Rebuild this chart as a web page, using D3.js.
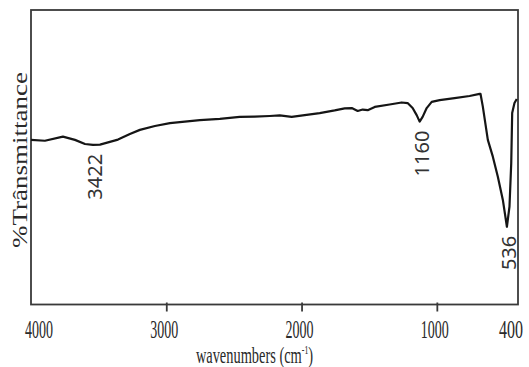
<!DOCTYPE html>
<html>
<head>
<meta charset="utf-8">
<script src="https://cdn.jsdelivr.net/npm/d3@7"></script>
<style>
  html, body { margin: 0; padding: 0; background: #fff; }
  svg { display: block; }
</style>
</head>
<body>
<div id="chart"></div>
<script>
// spectrum (wavenumber, %T on an arbitrary 0-100 scale)
const wavenumbers = [4000, 3897, 3764, 3675, 3601, 3542, 3490, 3417, 3357, 3269, 3195, 3084, 2973, 2863,
    2752, 2604, 2457, 2346, 2235, 2161, 2073, 1977, 1866, 1755, 1681, 1629, 1585, 1548, 1511, 1459,
    1349, 1260, 1216, 1179, 1149, 1127, 1105, 1075, 1038, 979, 869, 758, 684, 677, 660, 623, 586,
    549, 512, 482, 463, 450, 443, 426, 409];
const transmittance = [55.9, 55.6, 57.0, 55.9, 54.5, 54.2, 54.3, 55.2, 56.0, 57.9, 59.3, 60.6, 61.6, 62.1,
    62.6, 63.0, 63.7, 63.8, 64.0, 64.2, 63.7, 64.3, 65.0, 65.9, 66.6, 66.7, 65.7, 66.2, 66.0, 67.1,
    67.9, 68.6, 68.4, 66.7, 64.3, 62.1, 63.7, 66.7, 68.8, 69.4, 70.1, 70.8, 71.5, 71.5, 67.2, 55.9, 50.2,
    43.4, 35.5, 26.4, 33.2, 48.0, 65.0, 68.4, 69.8];

// peak annotations: where the dip sits, and the text printed under it
const peakPositions = [3542, 1127, 482];
const peakLabels = ['3422', '1160', '536'];

const xTicks = [3000, 2000, 1000];
const xTickLabels = [4000, 3000, 2000, 1000, 400];

const width = 529;
const height = 367;
const margin = { top: 10, right: 11, bottom: 62.5, left: 31 };

const data = wavenumbers.map((w, i) => ({ x: w, y: transmittance[i] }));

const svg = d3.select('#chart')
    .append('svg')
    .attr('width', width)
    .attr('height', height);

// шкалы
const x = d3.scaleLinear()
    .domain([4000, 400])
    .range([margin.left, width - margin.right]);

const y = d3.scaleLinear()
    .domain([0, 100])
    .range([height - margin.bottom, margin.top]);

// рамка
svg.append('rect')
    .attr('x', x(4000))
    .attr('y', y(100))
    .attr('width', x(400) - x(4000))
    .attr('height', y(0) - y(100))
    .attr('fill', 'none')
    .attr('stroke', '#3a3a3a')
    .attr('stroke-width', 1.8);

// тики снизу
const xAxis = g => g
    .attr('transform', `translate(0,${y(0)})`)
    .call(d3.axisBottom(x).tickValues(xTicks).tickSize(7).tickFormat(''))
    .call(g => g.select('.domain').remove())
    .call(g => g.selectAll('.tick line')
        .attr('y1', -2)
        .attr('stroke', '#3a3a3a')
        .attr('stroke-width', 1.8));

svg.append('g').call(xAxis);

// подписи тиков (сжатый шрифт); крайние прижаты к краям картинки
const last = xTickLabels.length - 1;

svg.selectAll('.x-label')
    .data(xTickLabels)
    .join('text')
    .attr('class', 'x-label')
    .attr('x', (d, i) => x(d) + (i === 0 ? -6 : i === last ? 5 : -2))
    .attr('y', y(0) + 33)
    .attr('text-anchor', (d, i) => i === 0 ? 'start' : i === last ? 'end' : 'middle')
    .attr('textLength', d => String(d).length === 4 ? 28 : 24)
    .attr('lengthAdjust', 'spacingAndGlyphs')
    .style('font-family', '"Liberation Serif", serif')
    .style('font-size', '25px')
    .style('fill', '#2a2a2a')
    .text(d => d);

// подпись оси X
const xTitle = svg.append('g')
    .attr('transform', `translate(${(x(4000) + x(400)) / 2 - 20},${height - 4}) scale(0.6,1)`)
    .append('text')
    .attr('text-anchor', 'middle')
    .style('font-family', '"Liberation Serif", serif')
    .style('font-size', '24px')
    .style('fill', '#2a2a2a');

xTitle.append('tspan').text('wavenumbers (cm');
xTitle.append('tspan')
    .attr('dy', -9)
    .style('font-size', '13px')
    .text('-1');
xTitle.append('tspan')
    .attr('dy', 9)
    .text(')');

// подпись оси Y
svg.append('text')
    .attr('transform', `translate(27,${(72 + 248) / 2}) rotate(-90)`)
    .attr('text-anchor', 'middle')
    .attr('textLength', 176)
    .attr('lengthAdjust', 'spacingAndGlyphs')
    .style('font-family', '"Liberation Serif", serif')
    .style('font-size', '21px')
    .style('fill', '#2a2a2a')
    .text('%Trânsmittance');

// спектр
const line = d3.line()
    .x(d => x(d.x))
    .y(d => y(d.y));

svg.append('path')
    .datum(data)
    .attr('fill', 'none')
    .attr('stroke', '#151515')
    .attr('stroke-width', 2.2)
    .attr('stroke-linejoin', 'round')
    .attr('d', line);

// подписи пиков
const peakT = w => transmittance[wavenumbers.indexOf(w)];

svg.selectAll('.peak-label')
    .data(peakPositions)
    .join('text')
    .attr('class', 'peak-label')
    .attr('transform', d => `translate(${x(d) + 2},${y(peakT(d)) + 9}) rotate(-90)`)
    .attr('dy', '0.36em')
    .attr('text-anchor', 'end')
    .style('font-family', '"Noto Sans", sans-serif')
    .style('font-size', '20px')
    .style('fill', '#333')
    .text((d, i) => peakLabels[i]);
</script>
</body>
</html>
